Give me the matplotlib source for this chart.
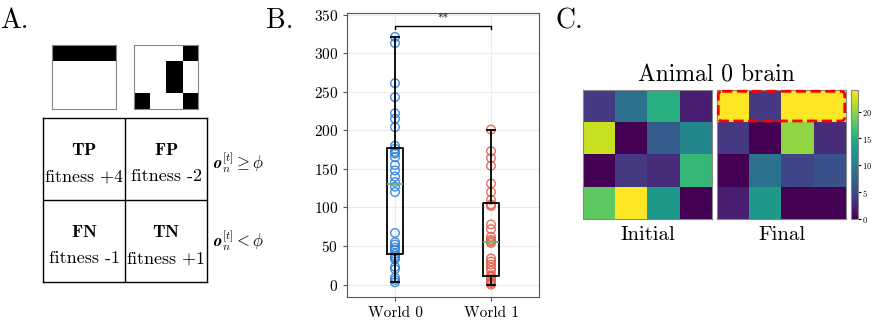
import matplotlib
matplotlib.use("Agg")
import matplotlib.pyplot as plt
import numpy as np
from matplotlib.patches import FancyBboxPatch

plt.rcParams['font.family'] = 'serif'
plt.rcParams['font.serif'] = ['cmr10']
plt.rcParams['mathtext.fontset'] = 'cm'
plt.rcParams['axes.unicode_minus'] = False
plt.rcParams['axes.formatter.use_mathtext'] = True

# ---- data ----
pattern_target = np.array([[1, 1, 1, 1],
                           [0, 0, 0, 0],
                           [0, 0, 0, 0],
                           [0, 0, 0, 0]])
pattern_other = np.array([[0, 0, 0, 1],
                          [0, 0, 1, 0],
                          [0, 0, 1, 0],
                          [1, 0, 0, 1]])
outcomes = ['TP', 'FP', 'FN', 'TN']
fitness = [4, -2, -1, 1]

worlds = ['World 0', 'World 1']
world0 = [3, 6, 9, 20, 23, 33, 35, 37, 40, 45, 48, 52, 55, 67, 120, 127,
          133, 140, 148, 155, 165, 170, 172, 176, 180, 204, 215, 222, 243,
          261, 313, 321]
world1 = [0, 2, 3, 5, 7, 10, 11, 12, 18, 22, 26, 30, 34, 54, 56, 58, 62,
          72, 78, 102, 104, 110, 120, 131, 154, 164, 173, 201]

brain_initial = np.array([[4, 9, 15, 2],
                          [22, 0, 7, 11],
                          [0, 4, 3, 16],
                          [18, 24, 13, 0]])
brain_final = np.array([[24, 4, 24, 24],
                        [4, 0, 20, 3],
                        [0, 9, 5, 6],
                        [2, 13, 0, 0]])

W, H = 872, 328
fig = plt.figure(figsize=(W / 100, H / 100), dpi=100)


def px(x0, y0, x1, y1):
    return [x0 / W, 1 - y1 / H, (x1 - x0) / W, (y1 - y0) / H]


# panel labels
for lbl, x in [('A.', 0), ('B.', 266), ('C.', 555)]:
    fig.text(x / W, 1 - 8 / H, lbl, fontsize=20, va='top', ha='left')

# ---- panel A ----
for pat, x0 in [(pattern_target, 52), (pattern_other, 134)]:
    ax = fig.add_axes(px(x0, 45, x0 + 64, 109))
    ax.imshow(pat, cmap='gray_r', vmin=0, vmax=1, aspect='auto')
    ax.set_xticks([])
    ax.set_yticks([])
    for s in ax.spines.values():
        s.set_color('#888888')
        s.set_linewidth(0.8)

axT = fig.add_axes(px(43, 118, 207, 282))
axT.set_xlim(0, 2)
axT.set_ylim(2, 0)
axT.set_xticks([])
axT.set_yticks([])
for s in axT.spines.values():
    s.set_linewidth(1.0)
axT.axvline(1, color='black', lw=1.0)
axT.axhline(1, color='black', lw=1.0)
for i, (name, f) in enumerate(zip(outcomes, fitness)):
    col, row = i % 2, i // 2
    ftxt = 'fitness $+%d$' % f if f > 0 else 'fitness %d' % f
    axT.text(col + 0.5, row + 0.39, r'$\mathbf{%s}$' % name, ha='center',
             va='center', fontsize=13)
    axT.text(col + 0.5, row + 0.71, ftxt, ha='center', va='center',
             fontsize=13)
axT.text(2.07, 0.55, r'$\mathbfit{o}_n^{[t]} \geq \phi$', ha='left',
         va='center', fontsize=12)
axT.text(2.07, 1.5, r'$\mathbfit{o}_n^{[t]} < \phi$', ha='left',
         va='center', fontsize=12)

# ---- panel B ----
axB = fig.add_axes(px(347, 13, 539, 297))
axB.grid(True, color='#ebebeb', lw=0.8)
axB.set_axisbelow(True)
axB.boxplot([world0, world1], widths=0.16, showfliers=False,
            boxprops=dict(color='black', lw=1.3),
            whiskerprops=dict(color='black', lw=1.3),
            capprops=dict(color='black', lw=1.3),
            medianprops=dict(color='#66b466', lw=1.3))
for i, (vals, c) in enumerate([(world0, '#2f80d8'), (world1, '#e0604c')]):
    axB.scatter(np.full(len(vals), i + 1), vals, s=38, facecolors='none',
                edgecolors=c, linewidths=1.0, zorder=1, alpha=0.9)
axB.set_xlim(0.5, 2.5)
axB.set_ylim(-16, 352)
axB.set_yticks(range(0, 351, 50))
axB.set_xticks([1, 2])
axB.set_xticklabels(worlds)
axB.tick_params(labelsize=11, color='#555555', length=3)
for s in axB.spines.values():
    s.set_color('#555555')
    s.set_linewidth(0.8)
axB.plot([1, 1, 2, 2], [331, 335, 335, 331], color='black', lw=1.0)
axB.text(1.5, 337, '**', ha='center', va='bottom', fontsize=8)

# ---- panel C ----
axI = fig.add_axes(px(583, 90, 712, 219))
axF = fig.add_axes(px(717, 90, 846, 219))
for ax, data, name in [(axI, brain_initial, 'Initial'),
                       (axF, brain_final, 'Final')]:
    im = ax.imshow(data, cmap='viridis', vmin=0, vmax=24, aspect='auto')
    ax.set_xticks([])
    ax.set_yticks([])
    for s in ax.spines.values():
        s.set_color('#888888')
        s.set_linewidth(0.8)
    ax.set_xlabel(name, fontsize=15, labelpad=5)
fig.text(716 / W, 1 - 75 / H, 'Animal 0 brain', ha='center', va='center',
         fontsize=17)
box = FancyBboxPatch((-0.44, -0.44), 3.88, 0.88,
                     boxstyle='round,pad=0.02,rounding_size=0.12',
                     transform=axF.transData, ec='red', fc='none', ls='--',
                     lw=2, clip_on=False, zorder=5)
axF.add_patch(box)

cax = fig.add_axes(px(851, 90, 858, 219))
cb = fig.colorbar(im, cax=cax, ticks=[0, 5, 10, 15, 20])
cb.ax.tick_params(labelsize=6, length=2, pad=1)
cb.outline.set_edgecolor('#888888')
cb.outline.set_linewidth(0.8)

fig.savefig('out.png', dpi=100)
